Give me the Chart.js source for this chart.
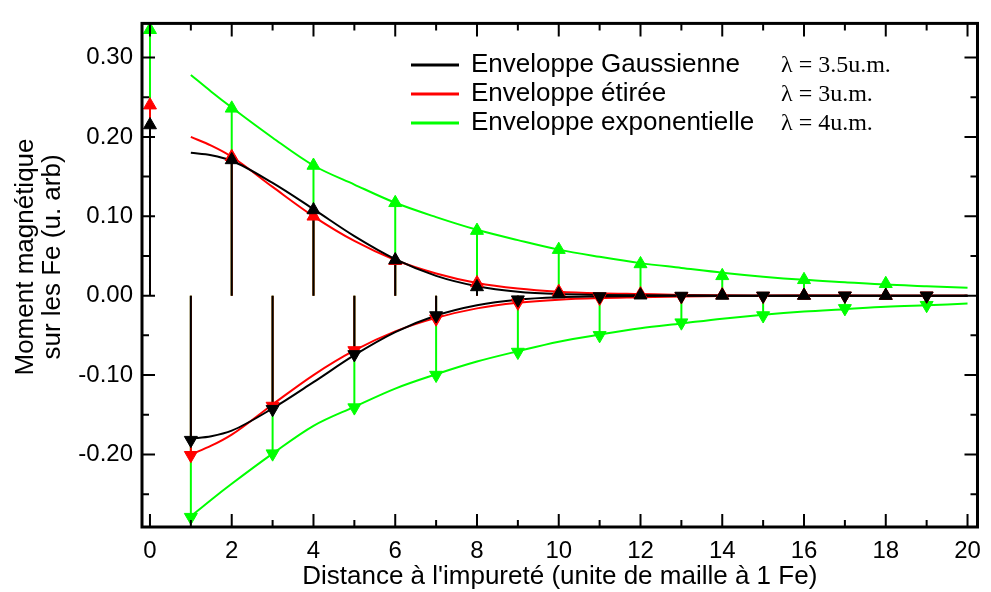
<!DOCTYPE html>
<html lang="fr">
<head>
<meta charset="UTF-8" />
<title>Moment magnétique sur les Fe</title>
<style>
  * { margin: 0; padding: 0; }
  body { background: #ffffff; }
  canvas { display: block; }
</style>
</head>
<body>
<canvas id="myChart" width="991" height="592"></canvas>

<script src="https://cdn.jsdelivr.net/npm/chart.js"></script>
<script>
  // sites (distance to the impurity, lattice units)
  const sites = [0, 1, 2, 3, 4, 5, 6, 7, 8, 9, 10, 11, 12, 13, 14, 15, 16, 17, 18, 19];

  // moment on each Fe site
  const gaussMoments = [0.215, -0.182, 0.171, -0.143, 0.108, -0.074, 0.045, -0.025, 0.011, -0.005,
    0.002, -0.001, 0.0006, -0.0004, 0.0003, -0.0002, 0.0002, -0.0001, 0.0001, -0.0001];
  const stretchedMoments = [0.240, -0.201, 0.175, -0.139, 0.100, -0.069, 0.044, -0.029, 0.016, -0.009,
    0.005, -0.003, 0.002, -0.001, 0.0008, -0.0005, 0.0003, -0.0002, 0.0001, -0.0001];
  const expoMoments = [0.335, -0.279, 0.236, -0.199, 0.164, -0.141, 0.117, -0.100, 0.082, -0.071,
    0.058, -0.050, 0.040, -0.034, 0.025, -0.025, 0.020, -0.016, 0.015, -0.012];

  // envelopes (positive branch, mirrored for the negative one)
  const envelopeX = [1, 1.5, 2, 3, 4, 5, 6, 7, 8, 9, 10, 11, 12, 13, 14, 15, 16, 17, 18, 19, 20];
  const gaussEnvelope = [0.180, 0.177, 0.170, 0.142, 0.109, 0.075, 0.046, 0.025, 0.012, 0.005, 0.002,
    0.001, 0.0004, 0.0002, 0, 0, 0, 0, 0, 0, 0];
  const stretchedEnvelope = [0.200, 0.189, 0.175, 0.137, 0.100, 0.069, 0.045, 0.028, 0.016, 0.009, 0.005,
    0.003, 0.002, 0.001, 0.0005, 0.0003, 0.0002, 0.0001, 0, 0, 0];
  const expoEnvelope = [0.278, 0.257, 0.237, 0.199, 0.164, 0.140, 0.117, 0.099, 0.083, 0.070, 0.058,
    0.049, 0.041, 0.035, 0.029, 0.024, 0.020, 0.017, 0.014, 0.012, 0.010];

  const xTickLabels = [0, 2, 4, 6, 8, 10, 12, 14, 16, 18, 20];
  const xMinorTicks = [1, 3, 5, 7, 9, 11, 13, 15, 17, 19];
  const yTickLabels = [-0.2, -0.1, 0, 0.1, 0.2, 0.3];
  const yMinorTicks = [-0.25, -0.15, -0.05, 0.05, 0.15, 0.25];

  const yTitleLines = ["Moment magnétique", "sur les Fe (u. arb)"];
  const legendNames = ["Enveloppe Gaussienne", "Enveloppe étirée", "Enveloppe exponentielle"];
  const legendLambdas = ["λ = 3.5u.m.", "λ = 3u.m.", "λ = 4u.m."];
  const colors = ["#000000", "#ff0000", "#00ff00"];

  const sansFont = "'Liberation Sans', Arial, sans-serif";

  function stems(values) {
    const pts = [];
    values.forEach((v, i) => {
      pts.push({ x: sites[i], y: 0 }, { x: sites[i], y: v }, { x: sites[i], y: null });
    });
    return pts;
  }

  function envelope(values, sign) {
    return envelopeX.map((x, i) => ({ x: x, y: sign * values[i] }));
  }

  function markers(values) {
    return values.map((v, i) => ({ x: sites[i], y: v }));
  }

  const series = [gaussMoments, stretchedMoments, expoMoments];
  const envelopes = [gaussEnvelope, stretchedEnvelope, expoEnvelope];

  // lower order is drawn on top: black over red over green
  const datasets = [];
  series.forEach((vals, k) => {
    datasets.push({
      data: stems(vals),
      showLine: true,
      borderColor: colors[k],
      borderWidth: 2,
      pointRadius: 0,
      spanGaps: false,
      order: 7 + k
    });
  });
  envelopes.forEach((vals, k) => {
    [1, -1].forEach(sign => {
      datasets.push({
        data: envelope(vals, sign),
        showLine: true,
        borderColor: colors[k],
        borderWidth: 2,
        pointRadius: 0,
        cubicInterpolationMode: "monotone",
        order: 4 + k
      });
    });
  });
  series.forEach((vals, k) => {
    datasets.push({
      data: markers(vals),
      showLine: false,
      pointStyle: "triangle",
      pointRadius: 7.5,
      pointBackgroundColor: colors[k],
      pointBorderColor: colors[k],
      pointBorderWidth: 1,
      pointRotation: ctx => (ctx.raw && ctx.raw.y < 0 ? 180 : 0),
      clip: false,
      order: 1 + k
    });
  });

  // frame with inward ticks on all four sides
  const framePlugin = {
    id: "frame",
    afterDraw(chart) {
      const { ctx, chartArea: a, scales } = chart;
      ctx.save();
      ctx.strokeStyle = "#000";
      ctx.lineWidth = 2;
      const xt = xTickLabels.map(v => [v, 13]).concat(xMinorTicks.map(v => [v, 7]));
      xt.forEach(([v, len]) => {
        const px = scales.x.getPixelForValue(v);
        ctx.beginPath();
        ctx.moveTo(px, a.bottom); ctx.lineTo(px, a.bottom - len);
        ctx.moveTo(px, a.top); ctx.lineTo(px, a.top + len);
        ctx.stroke();
      });
      const yt = yTickLabels.map(v => [v, 13]).concat(yMinorTicks.map(v => [v, 7]));
      yt.forEach(([v, len]) => {
        const py = scales.y.getPixelForValue(v);
        ctx.beginPath();
        ctx.moveTo(a.left, py); ctx.lineTo(a.left + len, py);
        ctx.moveTo(a.right, py); ctx.lineTo(a.right - len, py);
        ctx.stroke();
      });
      ctx.lineWidth = 3;
      ctx.strokeRect(a.left, a.top, a.right - a.left, a.bottom - a.top);
      ctx.restore();
    }
  };

  // rotated two-line y title (sits a bit above the plot centre)
  const yTitlePlugin = {
    id: "yTitle",
    afterDraw(chart) {
      const ctx = chart.ctx;
      ctx.save();
      ctx.translate(26, 257);
      ctx.rotate(-Math.PI / 2);
      ctx.fillStyle = "#000";
      ctx.font = "26px " + sansFont;
      ctx.textAlign = "center";
      ctx.textBaseline = "middle";
      yTitleLines.forEach((line, i) => ctx.fillText(line, 0, i * 27));
      ctx.restore();
    }
  };

  // legend block with lambda values
  const legendPlugin = {
    id: "lambdaLegend",
    afterDraw(chart) {
      const ctx = chart.ctx;
      ctx.save();
      ctx.textBaseline = "middle";
      legendNames.forEach((name, i) => {
        const y = 65 + i * 29;
        ctx.strokeStyle = colors[i];
        ctx.lineWidth = 3;
        ctx.beginPath();
        ctx.moveTo(411, y);
        ctx.lineTo(459, y);
        ctx.stroke();
        ctx.fillStyle = "#000";
        ctx.font = "26px " + sansFont;
        ctx.fillText(name, 471, y);
        ctx.font = "24px 'Liberation Serif', 'Times New Roman', serif";
        ctx.fillText(legendLambdas[i], 781, y + 1);
      });
      ctx.restore();
    }
  };

  const config = {
    type: "scatter",
    data: { datasets },
    options: {
      responsive: false,
      animation: false,
      events: [],
      layout: { padding: { left: 0, top: 11, right: 11, bottom: 0 } },
      plugins: {
        legend: { display: false },
        tooltip: { enabled: false }
      },
      scales: {
        x: {
          type: "linear",
          min: -0.195,
          max: 20.244,
          afterFit: s => { s.height = 65; },
          afterBuildTicks: s => { s.ticks = xTickLabels.map(v => ({ value: v })); },
          grid: { display: false, drawTicks: false },
          border: { display: false },
          ticks: {
            autoSkip: false,
            maxRotation: 0,
            padding: 10,
            color: "#000",
            font: { family: sansFont, size: 24 },
            callback: v => String(v)
          },
          title: {
            display: true,
            text: "Distance à l'impureté (unite de maille à 1 Fe)",
            color: "#000",
            font: { family: sansFont, size: 26, lineHeight: 1.0 },
            padding: { top: 0, bottom: 2 }
          }
        },
        y: {
          min: -0.2914,
          max: 0.343,
          afterFit: s => { s.width = 142; },
          afterBuildTicks: s => { s.ticks = yTickLabels.map(v => ({ value: v })); },
          grid: { display: false, drawTicks: false },
          border: { display: false },
          ticks: {
            autoSkip: false,
            padding: 9,
            color: "#000",
            font: { family: sansFont, size: 24 },
            callback: v => v.toFixed(2)
          }
        }
      }
    },
    plugins: [framePlugin, yTitlePlugin, legendPlugin]
  };

  const myChart = new Chart(document.getElementById("myChart"), config);
</script>
</body>
</html>
